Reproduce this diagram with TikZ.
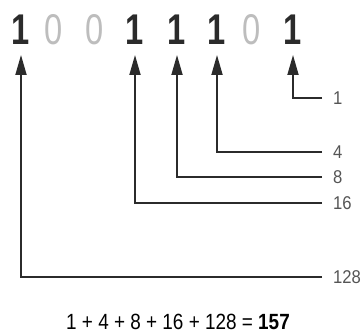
\documentclass[tikz,border=0pt]{standalone}
\usepackage{fontspec}
\setmainfont{Liberation Sans}
\newfontfamily\bigfont[FakeStretch=0.76]{Liberation Sans}
\newfontfamily\condfont[FakeStretch=0.86]{Liberation Sans}
\newfontfamily\lblfont[FakeStretch=0.9]{Liberation Sans}
\usetikzlibrary{arrows.meta}
\definecolor{ink}{HTML}{2B2B2B}
\definecolor{zero}{HTML}{BDBDBD}
\definecolor{lab}{HTML}{555555}
\begin{document}
\begin{tikzpicture}[x=1pt,y=-1pt,
  one/.style={inner sep=0pt,text=ink,font=\bigfont\fontsize{43}{43}\selectfont\bfseries},
  nought/.style={inner sep=0pt,text=zero,font=\bigfont\fontsize{43}{43}\selectfont},
  lbl/.style={inner sep=0pt,anchor=west,text=lab,font=\lblfont\fontsize{18.5}{18.5}\selectfont},
  conn/.style={draw=ink,line width=1.8pt,shorten <=11pt,-{Triangle[length=20pt,width=11pt]}}]
\useasboundingbox (0,0) rectangle (363,334);
% digits
\node[one]    (d1) at (21,30)  {1};
\node[nought] (d2) at (54,30)  {0};
\node[nought] (d3) at (95,30)  {0};
\node[one]    (d4) at (135,30) {1};
\node[one]    (d5) at (177,30) {1};
\node[one]    (d6) at (217,30) {1};
\node[nought] (d7) at (252,30) {0};
\node[one]    (d8) at (293,30) {1};
% arrow tips
\coordinate (t1) at ([yshift=-10pt]d1.south);
\coordinate (t4) at ([yshift=-10pt]d4.south);
\coordinate (t5) at ([yshift=-10pt]d5.south);
\coordinate (t6) at ([yshift=-10pt]d6.south);
\coordinate (t8) at ([yshift=-10pt]d8.south);
% labels
\node[lbl] (l1)   at (333,98)  {1};
\node[lbl] (l4)   at (333,152) {4};
\node[lbl] (l8)   at (333,177) {8};
\node[lbl] (l16)  at (333,203) {16};
\node[lbl] (l128) at (333,277) {128};
% connectors
\draw[conn] (l1) -| (t8);
\draw[conn] (l4) -| (t6);
\draw[conn] (l8) -| (t5);
\draw[conn] (l16) -| (t4);
\draw[conn] (l128) -| (t1);
% sum
\node[inner sep=0pt,font=\condfont\fontsize{22}{22}\selectfont] (sum) at (178,322)
  {1 + 4 + 8 + 16 + 128 = \textbf{157}};
\end{tikzpicture}
\end{document}
